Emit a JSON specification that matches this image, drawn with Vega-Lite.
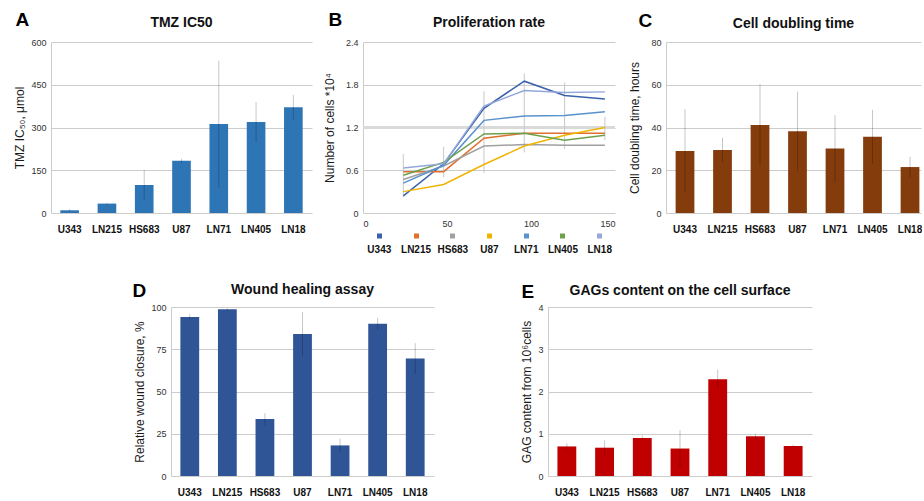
{
  "$schema": "https://vega.github.io/schema/vega-lite/v6.json",
  "padding": {"left": 13, "top": 10, "right": 0, "bottom": 0},
  "background": "white",
  "config": {
    "font": "Liberation Sans",
    "view": {"stroke": null},
    "title": {"fontSize": 14, "fontWeight": "bold", "color": "#111111", "anchor": "middle", "frame": "group", "baseline": "alphabetic", "offset": 0, "dy": 23.5},
    "axis": {"ticks": false, "labelColor": "#333333", "titleColor": "#1a1a1a", "titleFontWeight": "normal", "gridColor": "#cccccc", "domainColor": "#cccccc"},
    "axisX": {"grid": false, "domain": false, "labelAngle": 0, "labelFontSize": 10, "labelFontWeight": "bold", "labelColor": "#111111", "labelPadding": 11},
    "axisY": {"labelFontSize": 9, "labelPadding": 5, "titleFontSize": 12, "titlePadding": 4}
  },
  "datasets": {
    "tmz": [
      {"cell": "U343", "value": 9.5, "lo": 4.5, "hi": 14.5},
      {"cell": "LN215", "value": 33, "lo": 30, "hi": 36},
      {"cell": "HS683", "value": 98, "lo": 45, "hi": 151},
      {"cell": "U87", "value": 183, "lo": 176, "hi": 190},
      {"cell": "LN71", "value": 312, "lo": 88, "hi": 535},
      {"cell": "LN405", "value": 319, "lo": 249, "hi": 389},
      {"cell": "LN18", "value": 371, "lo": 328, "hi": 414}
    ],
    "dbl": [
      {"cell": "U343", "value": 29, "lo": 9.5, "hi": 48.6},
      {"cell": "LN215", "value": 29.5, "lo": 23.8, "hi": 35.2},
      {"cell": "HS683", "value": 41.2, "lo": 22.2, "hi": 60.3},
      {"cell": "U87", "value": 38.2, "lo": 19.5, "hi": 56.8},
      {"cell": "LN71", "value": 30.2, "lo": 14.2, "hi": 45.7},
      {"cell": "LN405", "value": 35.7, "lo": 22.9, "hi": 48.3},
      {"cell": "LN18", "value": 21.5, "lo": 16.5, "hi": 26.3}
    ],
    "wound": [
      {"cell": "U343", "value": 94.1, "lo": 92.6, "hi": 95.7},
      {"cell": "LN215", "value": 98.6, "lo": 97.9, "hi": 99.2},
      {"cell": "HS683", "value": 33.7, "lo": 30.2, "hi": 37.1},
      {"cell": "U87", "value": 84, "lo": 70.6, "hi": 97},
      {"cell": "LN71", "value": 18.1, "lo": 13.8, "hi": 22.1},
      {"cell": "LN405", "value": 90.1, "lo": 86.4, "hi": 93.7},
      {"cell": "LN18", "value": 69.5, "lo": 60.4, "hi": 78.6}
    ],
    "gag": [
      {"cell": "U343", "value": 0.70, "lo": 0.63, "hi": 0.77},
      {"cell": "LN215", "value": 0.67, "lo": 0.50, "hi": 0.84},
      {"cell": "HS683", "value": 0.90, "lo": 0.84, "hi": 0.96},
      {"cell": "U87", "value": 0.65, "lo": 0.21, "hi": 1.08},
      {"cell": "LN71", "value": 2.29, "lo": 2.07, "hi": 2.52},
      {"cell": "LN405", "value": 0.94, "lo": 0.88, "hi": 1.0},
      {"cell": "LN18", "value": 0.71, "lo": 0.68, "hi": 0.74}
    ],
    "bline": [
      {"series": "U343", "t": 24, "v": 0.24}, {"series": "U343", "t": 48, "v": 0.69}, {"series": "U343", "t": 72, "v": 1.47}, {"series": "U343", "t": 96, "v": 1.85}, {"series": "U343", "t": 120, "v": 1.65}, {"series": "U343", "t": 144, "v": 1.6},
      {"series": "LN215", "t": 24, "v": 0.58}, {"series": "LN215", "t": 48, "v": 0.58}, {"series": "LN215", "t": 72, "v": 1.05}, {"series": "LN215", "t": 96, "v": 1.12}, {"series": "LN215", "t": 120, "v": 1.12}, {"series": "LN215", "t": 144, "v": 1.12},
      {"series": "HS683", "t": 24, "v": 0.47}, {"series": "HS683", "t": 48, "v": 0.66}, {"series": "HS683", "t": 72, "v": 0.94}, {"series": "HS683", "t": 96, "v": 0.96}, {"series": "HS683", "t": 120, "v": 0.95}, {"series": "HS683", "t": 144, "v": 0.95},
      {"series": "U87", "t": 24, "v": 0.3}, {"series": "U87", "t": 48, "v": 0.4}, {"series": "U87", "t": 72, "v": 0.68}, {"series": "U87", "t": 96, "v": 0.94}, {"series": "U87", "t": 120, "v": 1.09}, {"series": "U87", "t": 144, "v": 1.2},
      {"series": "LN71", "t": 24, "v": 0.42}, {"series": "LN71", "t": 48, "v": 0.67}, {"series": "LN71", "t": 72, "v": 1.3}, {"series": "LN71", "t": 96, "v": 1.36}, {"series": "LN71", "t": 120, "v": 1.37}, {"series": "LN71", "t": 144, "v": 1.42},
      {"series": "LN405", "t": 24, "v": 0.53}, {"series": "LN405", "t": 48, "v": 0.71}, {"series": "LN405", "t": 72, "v": 1.11}, {"series": "LN405", "t": 96, "v": 1.12}, {"series": "LN405", "t": 120, "v": 1.02}, {"series": "LN405", "t": 144, "v": 1.09},
      {"series": "LN18", "t": 24, "v": 0.63}, {"series": "LN18", "t": 48, "v": 0.69}, {"series": "LN18", "t": 72, "v": 1.5}, {"series": "LN18", "t": 96, "v": 1.72}, {"series": "LN18", "t": 120, "v": 1.69}, {"series": "LN18", "t": 144, "v": 1.7}
    ],
    "berr": [
      {"t": 24, "lo": 0.22, "hi": 0.83},
      {"t": 48, "lo": 0.5, "hi": 0.93},
      {"t": 72, "lo": 0.56, "hi": 1.71},
      {"t": 96, "lo": 0.85, "hi": 1.96},
      {"t": 120, "lo": 0.9, "hi": 1.83},
      {"t": 144, "lo": 1.02, "hi": 1.35}
    ],
    "bleg": [
      {"series": "U343"}, {"series": "LN215"}, {"series": "HS683"}, {"series": "U87"}, {"series": "LN71"}, {"series": "LN405"}, {"series": "LN18"}
    ],
    "band12": [{"y": 1.2}],
    "empty": []
  },
  "vconcat": [
    {
      "hconcat": [
        {
          "width": 261, "height": 171,
          "title": {"text": "TMZ IC50"},
          "data": {"name": "tmz"},
          "layer": [
            {
              "mark": {"type": "bar", "color": "#2e75b6"},
              "encoding": {
                "x": {"field": "cell", "type": "nominal", "sort": null, "title": null, "scale": {"paddingInner": 0.5, "paddingOuter": 0.25}},
                "y": {"field": "value", "type": "quantitative", "title": "TMZ IC₅₀, μmol", "scale": {"domain": [0, 600]}, "axis": {"values": [0, 150, 300, 450, 600]}}
              }
            },
            {
              "mark": {"type": "rule", "color": "#000000", "opacity": 0.22},
              "encoding": {
                "x": {"field": "cell", "type": "nominal", "sort": null, "axis": {"orient": "top", "labels": false, "ticks": false, "domain": false, "grid": false, "title": "A", "titleFontSize": 19, "titleFontWeight": "bold", "titleColor": "#000000", "titleX": -36, "titleY": -17, "titleAlign": "left", "titleBaseline": "alphabetic", "titleAngle": 0}},
                "y": {"field": "lo", "type": "quantitative", "title": "TMZ IC₅₀, μmol", "scale": {"domain": [0, 600]}},
                "y2": {"field": "hi"}
              }
            }
          ],
          "resolve": {"axis": {"x": "independent"}}
        },
        {
          "width": 252, "height": 171,
          "title": {"text": "Proliferation rate"},
          "layer": [
            {
              "data": {"name": "band12"},
              "mark": {"type": "rule", "color": "#dadada", "strokeWidth": 3},
              "encoding": {
                "y": {"field": "y", "type": "quantitative", "title": "Number of cells *10⁴", "scale": {"domain": [0, 2.4]}}
              }
            },
            {
              "data": {"name": "berr"},
              "mark": {"type": "rule", "color": "#c8c8c8"},
              "encoding": {
                "x": {"field": "t", "type": "quantitative", "scale": {"domain": [0, 150]}, "axis": {"orient": "top", "labels": false, "ticks": false, "domain": false, "grid": false, "title": "B", "titleFontSize": 19, "titleFontWeight": "bold", "titleColor": "#000000", "titleX": -35, "titleY": -17, "titleAlign": "left", "titleBaseline": "alphabetic", "titleAngle": 0}},
                "y": {"field": "lo", "type": "quantitative", "title": "Number of cells *10⁴", "scale": {"domain": [0, 2.4]}},
                "y2": {"field": "hi"}
              }
            },
            {
              "data": {"name": "bline"},
              "mark": {"type": "line", "strokeWidth": 1.5},
              "encoding": {
                "x": {"field": "t", "type": "quantitative", "title": null, "scale": {"domain": [0, 150]}, "axis": {"values": [0, 50, 100, 150], "labelFontSize": 9, "labelFontWeight": "normal", "labelColor": "#333333", "labelPadding": 6}},
                "y": {"field": "v", "type": "quantitative", "title": "Number of cells *10⁴", "scale": {"domain": [0, 2.4]}, "axis": {"values": [0, 0.6, 1.2, 1.8, 2.4], "format": "~g", "titlePadding": 9}},
                "color": {"field": "series", "type": "nominal", "legend": null, "scale": {"domain": ["U343", "LN215", "HS683", "U87", "LN71", "LN405", "LN18"], "range": ["#3a62ac", "#e0702f", "#a0a0a0", "#f0b400", "#5a92cc", "#6da04a", "#94a8dc"]}}
              }
            },
            {
              "data": {"name": "bleg"},
              "mark": {"type": "point", "opacity": 0},
              "encoding": {
                "x": {"field": "series", "type": "nominal", "sort": null, "title": null, "scale": {"type": "point", "padding": 0.43},
                  "axis": {"orient": "bottom", "offset": 20, "domain": false, "ticks": true, "tickSize": 5, "tickWidth": 5, "labelFontSize": 10, "labelFontWeight": "bold", "labelColor": "#111111", "labelPadding": 6, "grid": false,
                    "tickColor": {"condition": [
                      {"test": "datum.value === 'U343'", "value": "#3a62ac"},
                      {"test": "datum.value === 'LN215'", "value": "#e0702f"},
                      {"test": "datum.value === 'HS683'", "value": "#a0a0a0"},
                      {"test": "datum.value === 'U87'", "value": "#f0b400"},
                      {"test": "datum.value === 'LN71'", "value": "#5a92cc"},
                      {"test": "datum.value === 'LN405'", "value": "#6da04a"}
                    ], "value": "#94a8dc"}}}
              }
            }
          ],
          "resolve": {"scale": {"x": "independent"}, "axis": {"x": "independent"}}
        },
        {
          "width": 255, "height": 171,
          "title": {"text": "Cell doubling time"},
          "data": {"name": "dbl"},
          "layer": [
            {
              "mark": {"type": "bar", "color": "#843c0c"},
              "encoding": {
                "x": {"field": "cell", "type": "nominal", "sort": null, "title": null, "scale": {"paddingInner": 0.5, "paddingOuter": 0.15, "align": 0.856}},
                "y": {"field": "value", "type": "quantitative", "title": "Cell doubling time, hours", "scale": {"domain": [0, 80]}, "axis": {"values": [0, 20, 40, 60, 80], "titlePadding": 9}}
              }
            },
            {
              "mark": {"type": "rule", "color": "#000000", "opacity": 0.22},
              "encoding": {
                "x": {"field": "cell", "type": "nominal", "sort": null, "axis": {"orient": "top", "labels": false, "ticks": false, "domain": false, "grid": false, "title": "C", "titleFontSize": 19, "titleFontWeight": "bold", "titleColor": "#000000", "titleX": -28, "titleY": -16, "titleAlign": "left", "titleBaseline": "alphabetic", "titleAngle": 0}},
                "y": {"field": "lo", "type": "quantitative", "title": "Cell doubling time, hours", "scale": {"domain": [0, 80]}},
                "y2": {"field": "hi"}
              }
            }
          ],
          "resolve": {"axis": {"x": "independent"}}
        }
      ],
      "spacing": 11
    },
    {
      "hconcat": [
        {
          "width": 31, "height": 10,
          "data": {"name": "empty"},
          "mark": {"type": "point", "opacity": 0},
          "encoding": {}
        },
        {
          "hconcat": [
            {
              "width": 263, "height": 169,
              "title": {"text": "Wound healing assay", "dy": 20},
              "data": {"name": "wound"},
              "layer": [
                {
                  "mark": {"type": "bar", "color": "#2f5597"},
                  "encoding": {
                    "x": {"field": "cell", "type": "nominal", "sort": null, "title": null, "scale": {"paddingInner": 0.5, "paddingOuter": 0.25}},
                    "y": {"field": "value", "type": "quantitative", "title": "Relative wound closure, %", "scale": {"domain": [0, 100]}, "axis": {"values": [0, 25, 50, 75, 100]}}
                  }
                },
                {
                  "mark": {"type": "rule", "color": "#000000", "opacity": 0.22},
                  "encoding": {
                    "x": {"field": "cell", "type": "nominal", "sort": null, "axis": {"orient": "top", "labels": false, "ticks": false, "domain": false, "grid": false, "title": "D", "titleFontSize": 19, "titleFontWeight": "bold", "titleColor": "#000000", "titleX": -39, "titleY": -11, "titleAlign": "left", "titleBaseline": "alphabetic", "titleAngle": 0}},
                    "y": {"field": "lo", "type": "quantitative", "title": "Relative wound closure, %", "scale": {"domain": [0, 100]}},
                    "y2": {"field": "hi"}
                  }
                }
              ],
              "resolve": {"axis": {"x": "independent"}}
            },
            {
              "width": 264, "height": 169,
              "title": {"text": "GAGs content on the cell surface", "dy": 20},
              "data": {"name": "gag"},
              "layer": [
                {
                  "mark": {"type": "bar", "color": "#c00000"},
                  "encoding": {
                    "x": {"field": "cell", "type": "nominal", "sort": null, "title": null, "scale": {"paddingInner": 0.5, "paddingOuter": 0.25}},
                    "y": {"field": "value", "type": "quantitative", "title": "GAG content from 10⁶cells", "scale": {"domain": [0, 4]}, "axis": {"values": [0, 1, 2, 3, 4]}}
                  }
                },
                {
                  "mark": {"type": "rule", "color": "#000000", "opacity": 0.22},
                  "encoding": {
                    "x": {"field": "cell", "type": "nominal", "sort": null, "axis": {"orient": "top", "labels": false, "ticks": false, "domain": false, "grid": false, "title": "E", "titleFontSize": 19, "titleFontWeight": "bold", "titleColor": "#000000", "titleX": -27, "titleY": -10, "titleAlign": "left", "titleBaseline": "alphabetic", "titleAngle": 0}},
                    "y": {"field": "lo", "type": "quantitative", "title": "GAG content from 10⁶cells", "scale": {"domain": [0, 4]}},
                    "y2": {"field": "hi"}
                  }
                }
              ],
              "resolve": {"axis": {"x": "independent"}}
            }
          ],
          "spacing": 86
        }
      ],
      "spacing": 50
    }
  ],
  "spacing": 27
}
